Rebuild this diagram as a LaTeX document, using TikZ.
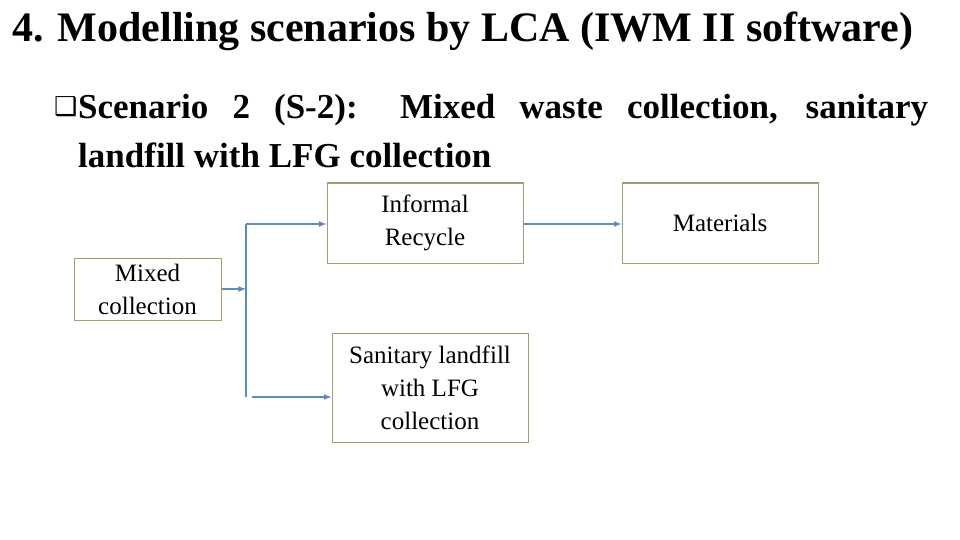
\documentclass[tikz,border=0pt]{standalone}
\usepackage{fontspec}
\setmainfont{Liberation Serif}
\newfontfamily\symfont{DejaVu Sans}
\usetikzlibrary{positioning}
\definecolor{boxline}{RGB}{150,165,110}
\definecolor{flowline}{RGB}{95,140,185}
\begin{document}
\begin{tikzpicture}[x=1pt,y=-1pt]
      \tikzstyle{stage}=[rectangle, draw=boxline, line width=1pt, align=center, font=\fontsize{25}{33}\selectfont, inner sep=0pt]
      \tikzstyle{flow}=[-latex, line width=1.6pt, draw=flowline]
      \useasboundingbox (0,0) rectangle (960,540);

      \node[anchor=west, font=\bfseries\fontsize{42}{48}\selectfont, inner sep=0pt] (title) at (12,31) {4. Modelling scenarios by LCA (IWM II software)};
      \node[anchor=west, font=\symfont\fontsize{26}{30}\selectfont, inner sep=0pt] (tick) at (54,107) {❑};
      \node[anchor=north west, align=left, font=\bfseries\fontsize{35}{49}\selectfont, inner sep=0pt] (scen) at (78,94) {\makebox[850pt][s]{Scenario 2 (S-2): Mixed waste collection, sanitary}\\landfill with LFG collection};

      \node[stage, minimum width=147pt, minimum height=62pt] (mixed) at (147.5,289) {Mixed\\collection};
      \node[stage, minimum width=196pt, minimum height=80pt] (informal) at (425,223) {Informal\\Recycle};
      \node[stage, minimum width=196pt, minimum height=80pt] (materials) at (720,223) {Materials};
      \node[stage, minimum width=196pt, minimum height=109pt] (landfill) at (430,387.5) {Sanitary landfill\\with LFG\\collection};

      \coordinate (split) at (246,289);
      \coordinate (top) at (246,224);
      \coordinate (bottom) at (246,397);
      \coordinate (lowstart) at (252,397);

      \draw[line width=1.6pt, flowline] (top) -- (bottom);
      \draw[flow] (mixed.east |- split) -- (split);
      \draw[flow] (top) -- (informal.west |- top);
      \draw[flow] (lowstart) -- (landfill.west |- lowstart);
      \draw[flow] (informal.east |- top) -- (materials.west |- top);
\end{tikzpicture}
\end{document}
